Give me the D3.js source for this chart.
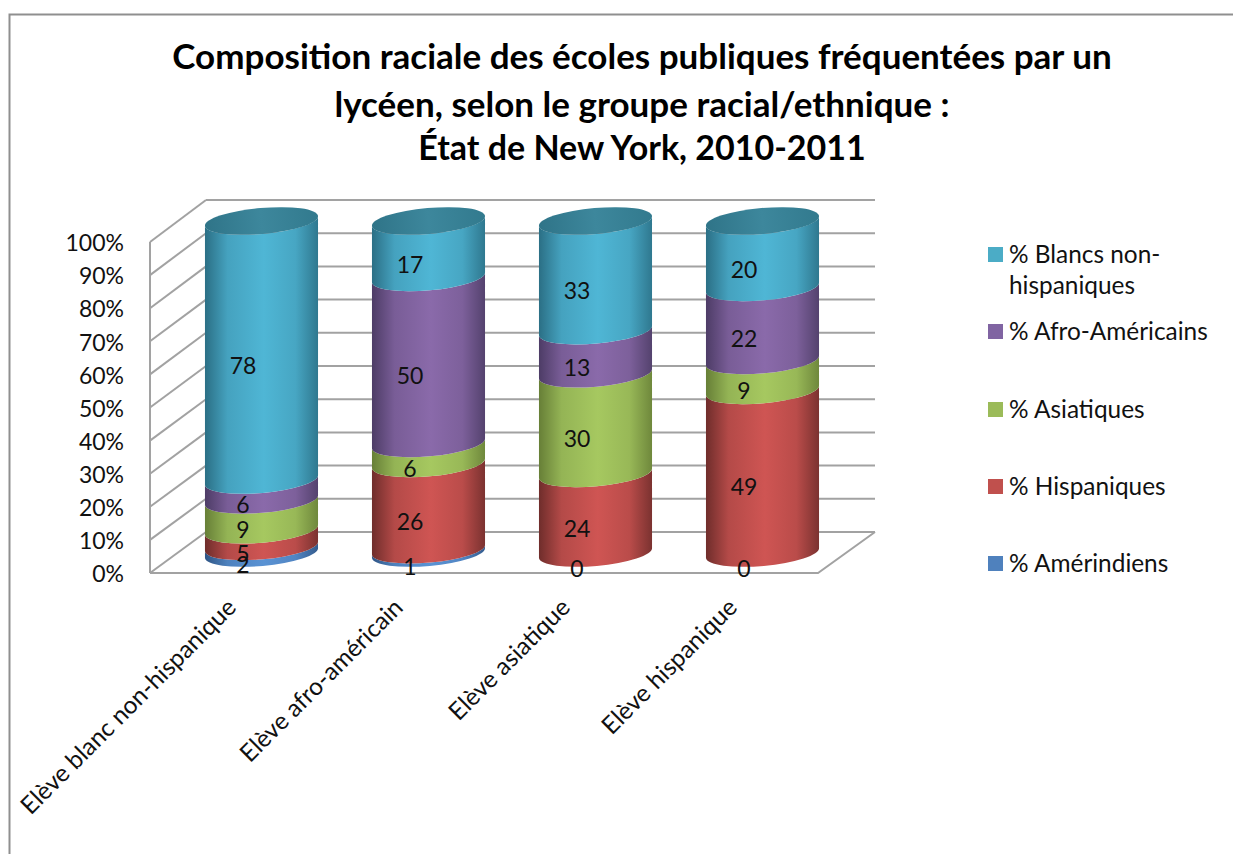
<!DOCTYPE html>
<html lang="fr"><head><meta charset="utf-8">
<script src="https://cdn.jsdelivr.net/npm/d3@7"></script>
<style>html,body{margin:0;padding:0;background:#fff}svg{display:block}text{font-family:Lato,"Noto Sans",sans-serif;fill:#111}</style>
</head><body><svg id="c" width="1233" height="854"></svg>
<script>
const categories = ["Elève blanc non-hispanique","Elève afro-américain","Elève asiatique","Elève hispanique"];
const seriesNames = ["% Amérindiens","% Hispaniques","% Asiatiques","% Afro-Américains","% Blancs non-hispaniques"];
const amerindiens = [2,1,0,0];
const hispaniques = [5,26,24,49];
const asiatiques = [9,6,30,9];
const afroAmericains = [6,50,13,22];
const blancs = [78,17,33,20];
const seriesValues = [amerindiens,hispaniques,asiatiques,afroAmericains,blancs];
const legendColors = ["#4f81bd","#c0504d","#9bbb59","#8064a2","#4bacc6"];
const brightColors = ["#5a93d4","#cf5553","#a6c860","#8a6aaa","#4fb6d5"];
const darkColors = ["#2f5585","#6f2d2b","#677f37","#4d3c66","#2b6f85"];
const tickValues = d3.range(0,101,10);
const titleLines = ["Composition raciale des écoles publiques fréquentées par un","lycéen, selon le groupe racial/ethnique :","État de New York, 2010-2011"];
const legendLines = [["% Blancs non-","hispaniques"],["% Afro-Américains"],["% Asiatiques"],["% Hispaniques"],["% Amérindiens"]];

const svg = d3.select("#c");
const grid = "#a2a2a2";
// frame
svg.append("path").attr("d","M9.5,854V14.5H1233").attr("fill","none").attr("stroke","#8f8f8f").attr("stroke-width",2);
// title
svg.append("g").selectAll("text").data(titleLines).join("text")
  .attr("x",642).attr("y",(d,i)=>[69,117,160][i]).attr("text-anchor","middle")
  .attr("font-size",(d,i)=>i===2?34:35).attr("font-weight",700).style("fill","#000").text(d=>d);

const yFront = d3.scaleLinear().domain([0,100]).range([573,242]);
const yBack = d3.scaleLinear().domain([0,100]).range([532,200]);
const yBar = d3.scaleLinear().domain([0,100]).range([553,221]);
const x = d3.scaleBand().domain(categories).range([178,846]);
const backL = 206, backR = 875, frontL = 150, frontR = 818;

const g = svg.append("g").attr("fill","none").attr("stroke",grid).attr("stroke-width",2);
tickValues.forEach(t=>{
  g.append("line").attr("x1",frontL).attr("x2",backL).attr("y1",yFront(t)).attr("y2",yBack(t));
  g.append("line").attr("x1",backL).attr("x2",backR).attr("y1",yBack(t)).attr("y2",yBack(t));
});
g.append("line").attr("x1",frontL).attr("x2",frontL).attr("y1",yFront(0)).attr("y2",yFront(100));
g.append("path").attr("d",`M${frontL},${yFront(0)}H${frontR}L${backR},${yBack(0)}`);

// y axis labels
const axis = svg.append("g").attr("transform",`translate(${frontL},0)`)
  .call(d3.axisLeft(yFront).tickValues(tickValues).tickFormat(d=>d+"%").tickSize(0).tickPadding(26));
axis.select(".domain").remove();
axis.selectAll("text").attr("font-size",23).attr("font-family",'Lato,"Noto Sans",sans-serif')
  .attr("dy","0.32em").attr("y",1.4);

// gradients
const defs = svg.append("defs");
const grad = (id,dark,bright)=>{
  const mix = d3.interpolateRgb(dark,bright);
  const lg = defs.append("linearGradient").attr("id",id);
  [[0,0],[.2,.72],[.52,1],[.8,.78],[1,.12]].forEach(([o,m])=>{
    lg.append("stop").attr("offset",o).attr("stop-color",mix(m));
  });
};
seriesNames.forEach((s,i)=>grad("g"+i,darkColors[i],brightColors[i]));

// cylinders
const barW = x.bandwidth()*0.677, tilt = 5, ry = 13;
const rx = Math.hypot(barW/2,tilt);
const stack = d3.stack().keys(d3.range(seriesNames.length)).value((d,k)=>d[k]);
const rows = categories.map((c,j)=>seriesValues.map(v=>v[j]));
const stacked = stack(rows);
const cx = j=>x(categories[j])+x.bandwidth()/2;
const bars = svg.append("g");
stacked.forEach((layer,i)=>{
  bars.selectAll(null).data(layer.map((d,j)=>({y0:d[0],y1:d[1],j})).filter(d=>d.y1>d.y0)).join("path")
    .attr("fill",`url(#g${i})`)
    .attr("d",d=>{
      const l=cx(d.j)-barW/2,r=cx(d.j)+barW/2,b=yBar(d.y0),t=yBar(d.y1);
      return `M${l},${b+tilt}A${rx},${ry} -5 0 0 ${r},${b-tilt}L${r},${t-tilt}A${rx},${ry} -5 0 1 ${l},${t+tilt}Z`;
    });
});
const lgTop = defs.append("linearGradient").attr("id","top");
[[0,"#2f7488"],[.5,"#3d879c"],[1,"#327a8e"]].forEach(([o,c])=>lgTop.append("stop").attr("offset",o).attr("stop-color",c));
bars.selectAll("ellipse").data(categories).join("ellipse")
  .attr("rx",rx).attr("ry",ry).attr("fill","url(#top)")
  .attr("transform",(d,j)=>`translate(${cx(j)},${yBar(100)}) rotate(-5)`);

// value labels
const labels = svg.append("g").attr("text-anchor","middle").attr("font-size",23);
stacked.forEach(layer=>{
  labels.selectAll(null).data(layer.map((d,j)=>({v:d[1]-d[0],m:(d[0]+d[1])/2,j}))).join("text")
    .attr("x",d=>cx(d.j)-18.5).attr("y",d=>yBar(d.m)+13+10.5).text(d=>d.v);
});

// category labels
svg.append("g").selectAll("text").data(categories).join("text")
  .attr("text-anchor","end").attr("font-size",24.4)
  .attr("transform",(d,j)=>`translate(${cx(j)-24},${609}) rotate(-45)`).text(d=>d);

// legend
const legendY = [247,324,402,479,556];
const leg = svg.append("g");
legendLines.forEach((lines,i)=>{
  leg.append("rect").attr("x",988).attr("y",legendY[i]).attr("width",15).attr("height",15).attr("fill",legendColors[4-i]);
  lines.forEach((t,k)=>leg.append("text").attr("x",1009).attr("y",legendY[i]+16+k*31).attr("font-size",24.4).text(t));
});
</script></body></html>
